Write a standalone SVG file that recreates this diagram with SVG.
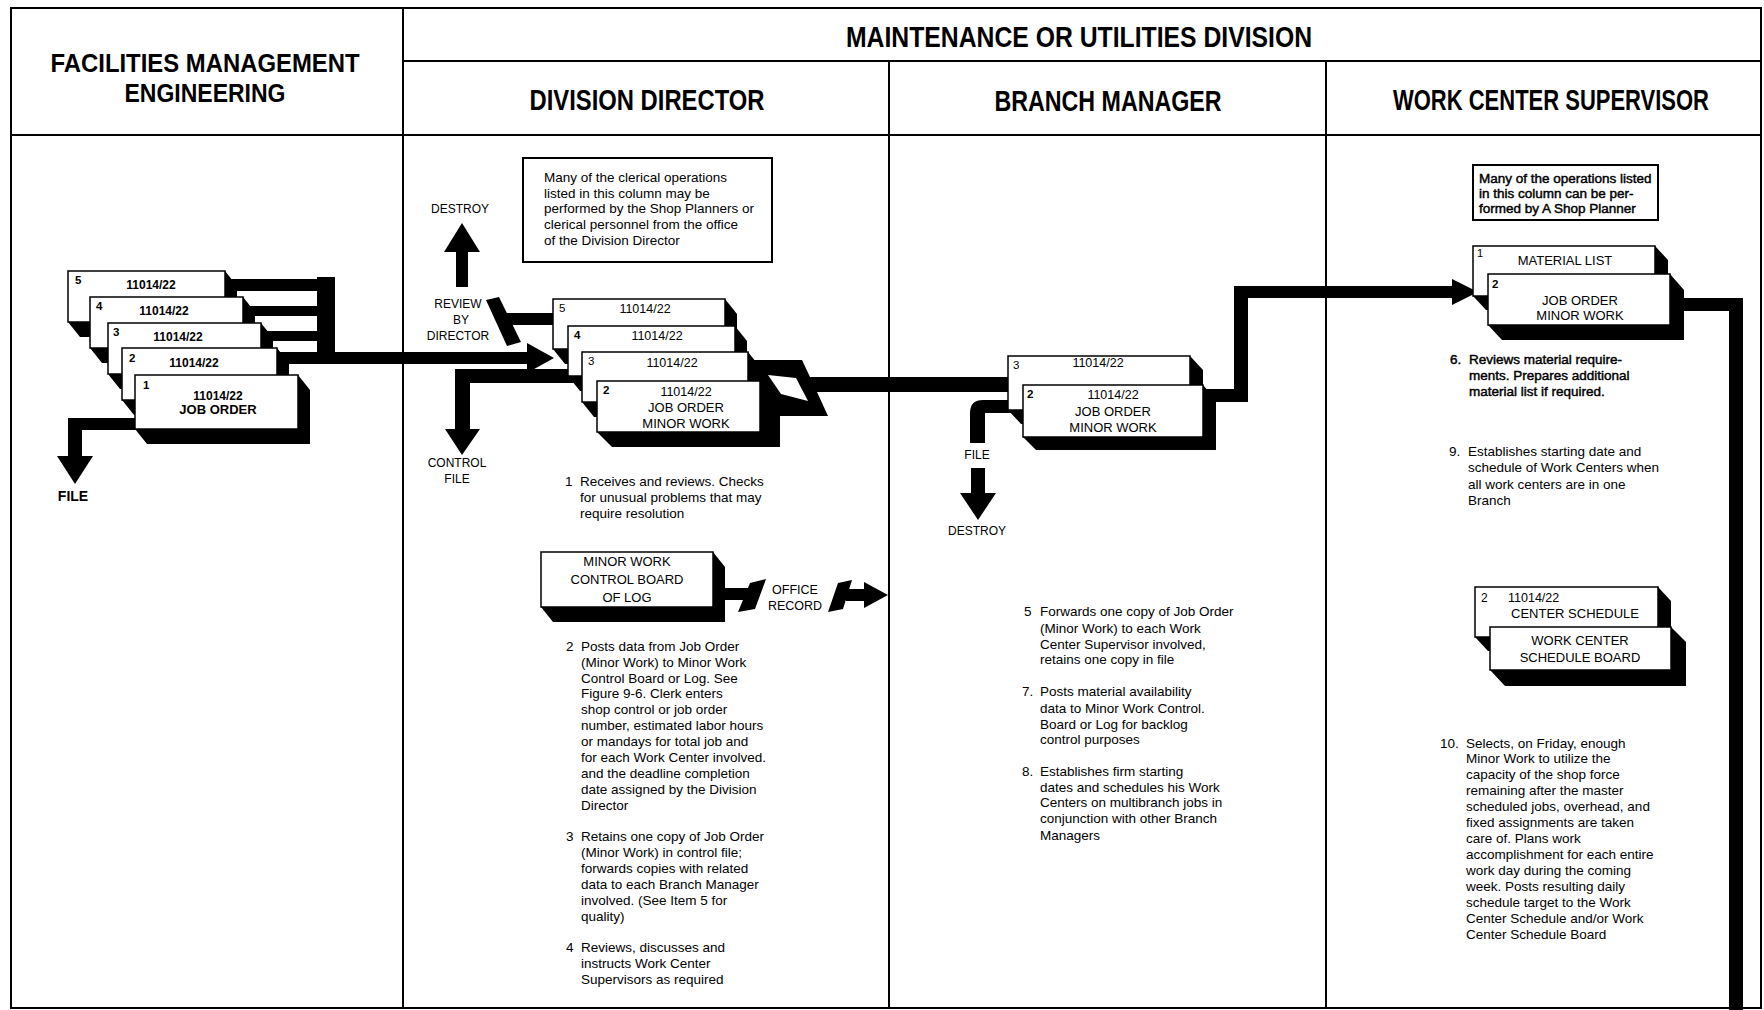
<svg xmlns="http://www.w3.org/2000/svg" width="1764" height="1010" viewBox="0 0 1764 1010">
<style>
.frame{fill:none;stroke:#000;stroke-width:2}
.hdr{font-family:"Liberation Sans",Arial,sans-serif;font-weight:bold;font-size:23px;fill:#000;text-anchor:middle}
.t{font-family:"Liberation Sans",Arial,sans-serif;font-size:13.5px;fill:#000}
.th{font-family:"Liberation Sans",Arial,sans-serif;font-size:13.5px;fill:#000;stroke:#000;stroke-width:0.45}
.lbl{font-family:"Liberation Sans",Arial,sans-serif;font-size:12px;fill:#000;text-anchor:middle}
.ct{font-family:"Liberation Sans",Arial,sans-serif;font-size:13px;fill:#000;text-anchor:middle}
.ctb{font-family:"Liberation Sans",Arial,sans-serif;font-size:12px;font-weight:bold;fill:#000;text-anchor:middle}
.num{font-family:"Liberation Sans",Arial,sans-serif;font-size:11.5px;fill:#000}
.numb{font-family:"Liberation Sans",Arial,sans-serif;font-size:11.5px;font-weight:bold;fill:#000}
.card{fill:#fff;stroke:#000;stroke-width:1.5}
.note{fill:#fff;stroke:#000;stroke-width:2}
.ink{fill:#000}
</style>

<g id="frame">
  <rect class="frame" x="11" y="8" width="1750" height="1000"/>
  <line class="frame" x1="403" y1="61" x2="1761" y2="61"/>
  <line class="frame" x1="11" y1="135" x2="1761" y2="135"/>
  <line class="frame" x1="403" y1="8" x2="403" y2="1008"/>
  <line class="frame" x1="889" y1="61" x2="889" y2="1008"/>
  <line class="frame" x1="1326" y1="61" x2="1326" y2="1008"/>
  <text class="hdr" transform="translate(205,72) scale(1,1.15)" x="0" y="0" textLength="309" lengthAdjust="spacingAndGlyphs">FACILITIES MANAGEMENT</text>
  <text class="hdr" transform="translate(205,102) scale(1,1.15)" x="0" y="0" textLength="161" lengthAdjust="spacingAndGlyphs">ENGINEERING</text>
  <text class="hdr" transform="translate(1079,47) scale(1,1.3)" x="0" y="0" textLength="466" lengthAdjust="spacingAndGlyphs">MAINTENANCE OR UTILITIES DIVISION</text>
  <text class="hdr" transform="translate(647,110) scale(1,1.3)" x="0" y="0" textLength="235" lengthAdjust="spacingAndGlyphs">DIVISION DIRECTOR</text>
  <text class="hdr" transform="translate(1108,111) scale(1,1.3)" x="0" y="0" textLength="227" lengthAdjust="spacingAndGlyphs">BRANCH MANAGER</text>
  <text class="hdr" transform="translate(1551,110) scale(1,1.3)" x="0" y="0" textLength="316" lengthAdjust="spacingAndGlyphs">WORK CENTER SUPERVISOR</text>
</g>

<g id="connectors">
  <!-- FME bracket and main arrow to Division Director -->
  <rect class="ink" x="317" y="277" width="18" height="87"/>
  <rect class="ink" x="220" y="279" width="115" height="12"/>
  <rect class="ink" x="240" y="306" width="95" height="10"/>
  <rect class="ink" x="258" y="331" width="77" height="10"/>
  <rect class="ink" x="250" y="352" width="280" height="12"/>
  <polygon class="ink" points="527,343 554,358 527,373"/>
  <!-- FME file -->
  <rect class="ink" x="68" y="418" width="75" height="12"/>
  <rect class="ink" x="68" y="418" width="14" height="40"/>
  <polygon class="ink" points="57,456 93,456 75,484"/>
  <!-- DD destroy -->
  <rect class="ink" x="456" y="250" width="12" height="37"/>
  <polygon class="ink" points="444,252 480,252 462,223"/>
  <!-- review by director -->
  <polygon class="ink" points="486,300 499,297 521,342 507,346"/>
  <rect class="ink" x="500" y="313" width="60" height="12"/>
  <!-- control file -->
  <rect class="ink" x="455" y="369" width="130" height="14"/>
  <rect class="ink" x="455" y="369" width="15" height="62"/>
  <polygon class="ink" points="445,429 480,429 462,455"/>
  <!-- DD to BM -->
  <polygon class="ink" points="748,360 802,360 810,377 1012,377 1012,392 817,392 828,416 780,416 780,440 748,440"/>
  <polygon fill="#fff" points="768,375 796,378 808,401 781,394"/>
  <!-- BM file / destroy -->
  <path class="ink" d="M970,413 Q970,400 983,400 L1025,400 L1025,413 L985,413 L985,443 L970,443 Z"/>
  <rect class="ink" x="971" y="468" width="14" height="27"/>
  <polygon class="ink" points="960,493 996,493 978,520"/>
  <!-- BM to WCS -->
  <rect class="ink" x="1205" y="389" width="43" height="13"/>
  <rect class="ink" x="1234" y="286" width="14" height="116"/>
  <rect class="ink" x="1234" y="286" width="222" height="12"/>
  <polygon class="ink" points="1452,279 1478,292 1452,305"/>
  <!-- WCS out -->
  <rect class="ink" x="1680" y="298" width="63" height="13"/>
  <rect class="ink" x="1729" y="298" width="14" height="712"/>
  <!-- office record -->
  <rect class="ink" x="722" y="588" width="26" height="12"/>
  <polygon class="ink" points="738,612 750,583 766,579 755,609"/>
  <polygon class="ink" points="828,612 838,583 852,580 843,609"/>
  <rect class="ink" x="846" y="589" width="20" height="12"/>
  <polygon class="ink" points="864,582 888,595 864,608"/>
  <text class="lbl" x="795" y="594" style="font-size:12.5px">OFFICE</text>
  <text class="lbl" x="795" y="610" style="font-size:12.5px">RECORD</text>
  <!-- labels -->
  <text class="ctb" x="73" y="501" style="font-size:14px">FILE</text>
  <text class="lbl" x="460" y="213">DESTROY</text>
  <text class="lbl" x="458" y="308">REVIEW</text>
  <text class="lbl" x="461" y="324">BY</text>
  <text class="lbl" x="458" y="340">DIRECTOR</text>
  <text class="lbl" x="457" y="467">CONTROL</text>
  <text class="lbl" x="457" y="483">FILE</text>
  <text class="lbl" x="977" y="459">FILE</text>
  <text class="lbl" x="977" y="535">DESTROY</text>
</g>

<g id="fme-job-order-stack">
  <polygon class="ink" points="68,271 225,271 237,286 237,337 80,337 68,322"/>
  <rect class="card" x="68" y="271" width="157" height="51"/>
  <text class="numb" x="75" y="284">5</text>
  <text class="ctb" x="151" y="289">11014/22</text>
  <polygon class="ink" points="90,297 243,297 255,312 255,363 102,363 90,348"/>
  <rect class="card" x="90" y="297" width="153" height="51"/>
  <text class="numb" x="96" y="310">4</text>
  <text class="ctb" x="164" y="315">11014/22</text>
  <polygon class="ink" points="108,323 261,323 273,338 273,389 120,389 108,374"/>
  <rect class="card" x="108" y="323" width="153" height="51"/>
  <text class="numb" x="113" y="336">3</text>
  <text class="ctb" x="178" y="341">11014/22</text>
  <polygon class="ink" points="122,348 277,348 289,363 289,415 134,415 122,400"/>
  <rect class="card" x="122" y="348" width="155" height="52"/>
  <text class="numb" x="129" y="362">2</text>
  <text class="ctb" x="194" y="367">11014/22</text>
  <polygon class="ink" points="135,375 298,375 310,390 310,444 147,444 135,429"/>
  <rect class="card" x="135" y="375" width="163" height="54"/>
  <text class="numb" x="143" y="389">1</text>
  <text class="ctb" x="218" y="400">11014/22</text>
  <text class="ctb" x="218" y="414" style="font-size:13px">JOB ORDER</text>
</g>

<g id="dd-note">
  <rect class="note" x="523" y="158" width="249" height="104"/>
  <text class="t"><tspan x="544" y="182">Many of the clerical operations</tspan><tspan x="544" y="198">listed in this column may be</tspan><tspan x="544" y="213">performed by the Shop Planners or</tspan><tspan x="544" y="229">clerical personnel from the office</tspan><tspan x="544" y="245">of the Division Director</tspan></text>
</g>

<g id="dd-job-order-stack">
  <polygon class="ink" points="553,299 725,299 737,314 737,364 565,364 553,349"/>
  <rect class="card" x="553" y="299" width="172" height="50"/>
  <text class="num" x="559" y="312">5</text>
  <text class="ct" x="645" y="313" style="font-size:12.5px">11014/22</text>
  <polygon class="ink" points="568,326 735,326 747,341 747,391 580,391 568,376"/>
  <rect class="card" x="568" y="326" width="167" height="50"/>
  <text class="numb" x="574" y="339">4</text>
  <text class="ct" x="657" y="340" style="font-size:12.5px">11014/22</text>
  <polygon class="ink" points="582,352 748,352 760,367 760,417 594,417 582,402"/>
  <rect class="card" x="582" y="352" width="166" height="50"/>
  <text class="num" x="588" y="365">3</text>
  <text class="ct" x="672" y="367" style="font-size:12.5px">11014/22</text>
  <polygon class="ink" points="597,381 760,381 780,398 780,447 612,447 597,432"/>
  <rect class="card" x="597" y="381" width="163" height="51"/>
  <text class="numb" x="603" y="394">2</text>
  <text class="ct" x="686" y="396" style="font-size:12.5px">11014/22</text>
  <text class="ct" x="686" y="412">JOB ORDER</text>
  <text class="ct" x="686" y="428">MINOR WORK</text>
</g>

<g id="dd-control-board">
  <polygon class="ink" points="541,552 713,552 725,567 725,622 553,622 541,607"/>
  <rect class="card" x="541" y="552" width="172" height="55"/>
  <text class="ct" x="627" y="566">MINOR WORK</text>
  <text class="ct" x="627" y="584">CONTROL BOARD</text>
  <text class="ct" x="627" y="602">OF LOG</text>
</g>

<g id="dd-steps">
  <text class="t"><tspan x="565" y="486">1</tspan><tspan x="580" y="486">Receives and reviews. Checks</tspan><tspan x="580" y="502">for unusual problems that may</tspan><tspan x="580" y="518">require resolution</tspan></text>
  <text class="t"><tspan x="566" y="651">2</tspan><tspan x="581" y="651">Posts data from Job Order</tspan><tspan x="581" y="667">(Minor Work) to Minor Work</tspan><tspan x="581" y="683">Control Board or Log. See</tspan><tspan x="581" y="698">Figure 9-6. Clerk enters</tspan><tspan x="581" y="714">shop control or job order</tspan><tspan x="581" y="730">number, estimated labor hours</tspan><tspan x="581" y="746">or mandays for total job and</tspan><tspan x="581" y="762">for each Work Center involved.</tspan><tspan x="581" y="778">and the deadline completion</tspan><tspan x="581" y="794">date assigned by the Division</tspan><tspan x="581" y="810">Director</tspan></text>
  <text class="t"><tspan x="566" y="841">3</tspan><tspan x="581" y="841">Retains one copy of Job Order</tspan><tspan x="581" y="857">(Minor Work) in control file;</tspan><tspan x="581" y="873">forwards copies with related</tspan><tspan x="581" y="889">data to each Branch Manager</tspan><tspan x="581" y="905">involved. (See Item 5 for</tspan><tspan x="581" y="921">quality)</tspan></text>
  <text class="t"><tspan x="566" y="952">4</tspan><tspan x="581" y="952">Reviews, discusses and</tspan><tspan x="581" y="968">instructs Work Center</tspan><tspan x="581" y="984">Supervisors as required</tspan></text>
</g>

<g id="bm-job-order-stack">
  <polygon class="ink" points="1008,356 1190,356 1203,370 1203,424 1021,424 1008,410"/>
  <rect class="card" x="1008" y="356" width="182" height="54"/>
  <text class="num" x="1013" y="369">3</text>
  <text class="ct" x="1098" y="367" style="font-size:12.5px">11014/22</text>
  <polygon class="ink" points="1023,385 1203,385 1216,400 1216,450 1036,450 1023,437"/>
  <rect class="card" x="1023" y="385" width="180" height="52"/>
  <text class="numb" x="1027" y="398">2</text>
  <text class="ct" x="1113" y="399" style="font-size:12.5px">11014/22</text>
  <text class="ct" x="1113" y="416">JOB ORDER</text>
  <text class="ct" x="1113" y="432">MINOR WORK</text>
</g>

<g id="bm-steps">
  <text class="t"><tspan x="1024" y="616">5</tspan><tspan x="1040" y="616">Forwards one copy of Job Order</tspan><tspan x="1040" y="633">(Minor Work) to each Work</tspan><tspan x="1040" y="649">Center Supervisor involved,</tspan><tspan x="1040" y="664">retains one copy in file</tspan></text>
  <text class="t"><tspan x="1022" y="696">7.</tspan><tspan x="1040" y="696">Posts material availability</tspan><tspan x="1040" y="713">data to Minor Work Control.</tspan><tspan x="1040" y="729">Board or Log for backlog</tspan><tspan x="1040" y="744">control purposes</tspan></text>
  <text class="t"><tspan x="1022" y="776">8.</tspan><tspan x="1040" y="776">Establishes firm starting</tspan><tspan x="1040" y="792">dates and schedules his Work</tspan><tspan x="1040" y="807">Centers on multibranch jobs in</tspan><tspan x="1040" y="823">conjunction with other Branch</tspan><tspan x="1040" y="840">Managers</tspan></text>
</g>

<g id="wcs-note">
  <rect class="note" x="1473" y="165" width="185" height="55"/>
  <text class="th"><tspan x="1479" y="183">Many of the operations listed</tspan><tspan x="1479" y="198">in this column can be per-</tspan><tspan x="1479" y="213">formed by A Shop Planner</tspan></text>
</g>

<g id="wcs-material-list">
  <polygon class="ink" points="1473,246 1655,246 1668,260 1668,310 1486,310 1473,296"/>
  <rect class="card" x="1473" y="246" width="182" height="50"/>
  <text class="num" x="1477" y="257" style="font-size:11px">1</text>
  <text class="ct" x="1565" y="265">MATERIAL LIST</text>
  <polygon class="ink" points="1488,274 1670,274 1684,290 1684,340 1502,340 1488,325"/>
  <rect class="card" x="1488" y="274" width="182" height="51"/>
  <text class="numb" x="1492" y="288">2</text>
  <text class="ct" x="1580" y="305">JOB ORDER</text>
  <text class="ct" x="1580" y="320">MINOR WORK</text>
</g>

<g id="wcs-center-schedule">
  <polygon class="ink" points="1475,587 1658,587 1671,601 1671,651 1488,651 1475,637"/>
  <rect class="card" x="1475" y="587" width="183" height="50"/>
  <text class="num" x="1481" y="602" style="font-size:12px">2</text>
  <text class="t" x="1508" y="602" style="font-size:12.5px">11014/22</text>
  <text class="ct" x="1575" y="618">CENTER SCHEDULE</text>
  <polygon class="ink" points="1490,627 1671,627 1686,642 1686,686 1505,686 1490,670"/>
  <rect class="card" x="1490" y="627" width="181" height="43"/>
  <text class="ct" x="1580" y="645">WORK CENTER</text>
  <text class="ct" x="1580" y="662">SCHEDULE BOARD</text>
</g>

<g id="wcs-steps">
  <text class="th"><tspan x="1450" y="364">6.</tspan><tspan x="1469" y="364">Reviews material require-</tspan><tspan x="1469" y="380">ments. Prepares additional</tspan><tspan x="1469" y="396">material list if required.</tspan></text>
  <text class="t"><tspan x="1449" y="456">9.</tspan><tspan x="1468" y="456">Establishes starting date and</tspan><tspan x="1468" y="472">schedule of Work Centers when</tspan><tspan x="1468" y="489">all work centers are in one</tspan><tspan x="1468" y="505">Branch</tspan></text>
  <text class="t"><tspan x="1440" y="748">10.</tspan><tspan x="1466" y="748">Selects, on Friday, enough</tspan><tspan x="1466" y="763">Minor Work to utilize the</tspan><tspan x="1466" y="779">capacity of the shop force</tspan><tspan x="1466" y="795">remaining after the master</tspan><tspan x="1466" y="811">scheduled jobs, overhead, and</tspan><tspan x="1466" y="827">fixed assignments are taken</tspan><tspan x="1466" y="843">care of. Plans work</tspan><tspan x="1466" y="859">accomplishment for each entire</tspan><tspan x="1466" y="875">work day during the coming</tspan><tspan x="1466" y="891">week. Posts resulting daily</tspan><tspan x="1466" y="907">schedule target to the Work</tspan><tspan x="1466" y="923">Center Schedule and/or Work</tspan><tspan x="1466" y="939">Center Schedule Board</tspan></text>
</g>
</svg>
